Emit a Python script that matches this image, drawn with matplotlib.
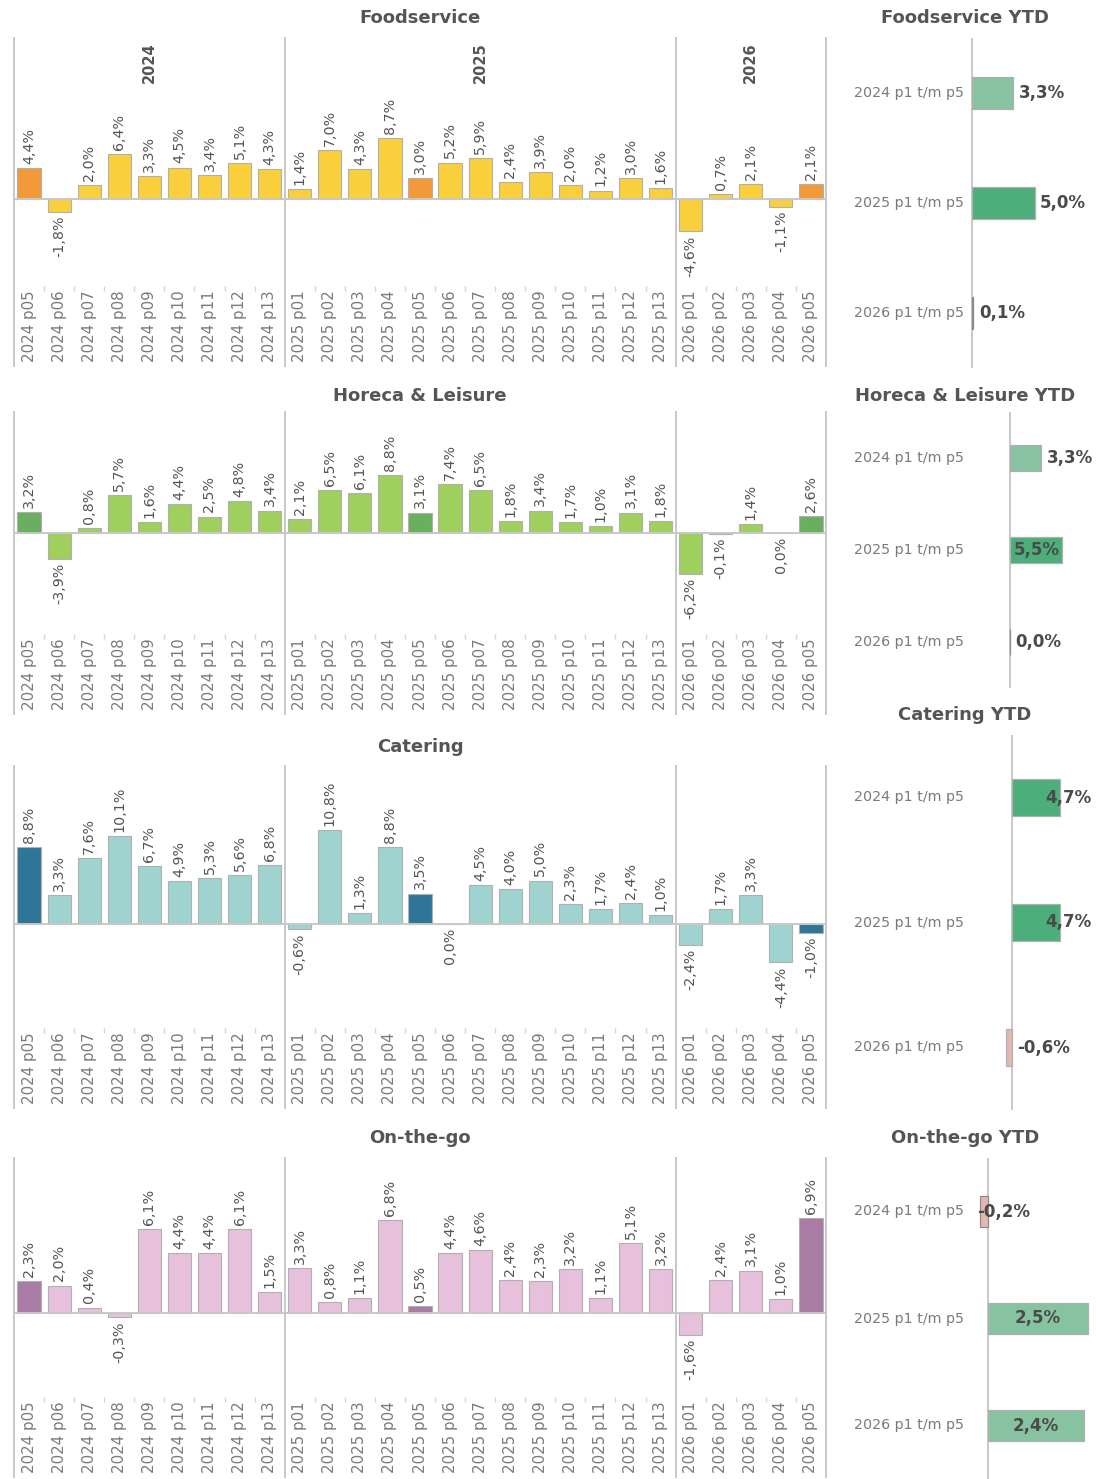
import numpy as np
import matplotlib
matplotlib.use("Agg")
import matplotlib.pyplot as plt

W, H = 1096, 1479

periods = ["2024 p05", "2024 p06", "2024 p07", "2024 p08", "2024 p09", "2024 p10",
           "2024 p11", "2024 p12", "2024 p13",
           "2025 p01", "2025 p02", "2025 p03", "2025 p04", "2025 p05", "2025 p06",
           "2025 p07", "2025 p08", "2025 p09", "2025 p10", "2025 p11", "2025 p12", "2025 p13",
           "2026 p01", "2026 p02", "2026 p03", "2026 p04", "2026 p05"]
years = ["2024", "2025", "2026"]
year_sizes = [9, 13, 5]

foodservice = [4.4, -1.8, 2.0, 6.4, 3.3, 4.5, 3.4, 5.1, 4.3,
               1.4, 7.0, 4.3, 8.7, 3.0, 5.2, 5.9, 2.4, 3.9, 2.0, 1.2, 3.0, 1.6,
               -4.6, 0.7, 2.1, -1.1, 2.1]
horeca = [3.2, -3.9, 0.8, 5.7, 1.6, 4.4, 2.5, 4.8, 3.4,
          2.1, 6.5, 6.1, 8.8, 3.1, 7.4, 6.5, 1.8, 3.4, 1.7, 1.0, 3.1, 1.8,
          -6.2, -0.1, 1.4, 0.0, 2.6]
catering = [8.8, 3.3, 7.6, 10.1, 6.7, 4.9, 5.3, 5.6, 6.8,
            -0.6, 10.8, 1.3, 8.8, 3.5, 0.0, 4.5, 4.0, 5.0, 2.3, 1.7, 2.4, 1.0,
            -2.4, 1.7, 3.3, -4.4, -1.0]
onthego = [2.3, 2.0, 0.4, -0.3, 6.1, 4.4, 4.4, 6.1, 1.5,
           3.3, 0.8, 1.1, 6.8, 0.5, 4.4, 4.6, 2.4, 2.3, 3.2, 1.1, 5.1, 3.2,
           -1.6, 2.4, 3.1, 1.0, 6.9]

ytd_labels = ["2024 p1 t/m p5", "2025 p1 t/m p5", "2026 p1 t/m p5"]
foodservice_ytd = [3.3, 5.0, 0.1]
horeca_ytd = [3.3, 5.5, 0.0]
catering_ytd = [4.7, 4.7, -0.6]
onthego_ytd = [-0.2, 2.5, 2.4]

TXT = "#555555"
GRID = "#c8c8c8"
EDGE = "#b0b0b0"


def px_rect(x0, y0, x1, y1):
    return [x0 / W, 1 - y1 / H, (x1 - x0) / W, (y1 - y0) / H]


def pct(v):
    return ("%.1f%%" % v).replace(".", ",")


fig = plt.figure(figsize=(W / 100, H / 100), dpi=100)


def draw_main(title, values, light, dark, top, bottom, zero, scale, title_y, show_years=False):
    ax = fig.add_axes(px_rect(14, top, 826, bottom))
    x = np.arange(len(periods))
    colors = [dark if p.endswith("p05") else light for p in periods]
    ax.bar(x, values, width=0.77, color=colors, edgecolor=EDGE, linewidth=0.8, zorder=2)
    ax.set_xlim(-0.5, len(periods) - 0.5)
    ax.set_ylim(-(bottom - zero) / scale, (zero - top) / scale)
    ax.axis("off")
    ax.axhline(0, color=GRID, lw=1.4, zorder=3)
    bounds = np.cumsum([0] + year_sizes) - 0.5
    for b in bounds:
        ax.axvline(b, color=GRID, lw=1.4, clip_on=False)

    for xi, v in zip(x, values):
        if v > 0:
            ax.annotate(pct(v), (xi, v), xytext=(0, 3), textcoords="offset points",
                        rotation=90, ha="center", va="bottom", fontsize=10.3, color=TXT)
        else:
            ax.annotate(pct(v), (xi, v), xytext=(0, -3), textcoords="offset points",
                        rotation=90, ha="center", va="top", fontsize=10.3, color=TXT)

    for xi, p in zip(x, periods):
        ax.annotate(p, (xi, 0), xycoords=("data", "axes fraction"), xytext=(0, 3),
                    textcoords="offset points", rotation=90, ha="center", va="bottom",
                    fontsize=10.8, color="#7a7a7a")

    # small separators above the period labels
    h = bottom - top
    inner = [i + 0.5 for i in range(len(periods) - 1) if (i + 0.5) not in bounds]
    ax.vlines(inner, 75 / h, 80 / h, transform=ax.get_xaxis_transform(),
              color="#d5d5d5", lw=1)

    if show_years:
        for k, yr in enumerate(years):
            c = (bounds[k] + bounds[k + 1]) / 2
            ax.annotate(yr, (c, 1), xycoords=("data", "axes fraction"), xytext=(0, -3),
                        textcoords="offset points", rotation=90, ha="center", va="top",
                        fontsize=10.5, fontweight="bold", color=TXT)

    fig.text(420 / W, 1 - title_y / H, title, ha="center", va="center",
             fontsize=13, fontweight="bold", color=TXT)


def ytd_color(v):
    if v < 0:
        return "#e3b8b2"
    if v >= 4:
        return "#4cae7b"
    return "#87c3a0"


def draw_ytd(title, values, top, bottom, zero, scale, title_y, modes):
    ax = fig.add_axes(px_rect(830, top, W, bottom))
    y = np.arange(len(values))
    edges = ["#8a8a8a" if abs(v) < 0.3 else EDGE for v in values]
    ax.barh(y, values, height=0.29, color=[ytd_color(v) for v in values],
            edgecolor=edges, linewidth=0.9, zorder=4)
    ax.set_xlim(-(zero - 830) / scale, (W - zero) / scale)
    ax.set_ylim(2.5, -0.5)
    ax.axis("off")
    ax.axvline(0, color=GRID, lw=1.4, zorder=3)

    for yi, lab in zip(y, ytd_labels):
        ax.annotate(lab, (0, yi), xytext=(-(zero - 964) * 0.72, 0), textcoords="offset points",
                    ha="right", va="center", fontsize=10.3, color="#7a7a7a")

    for yi, v, m in zip(y, values, modes):
        kw = dict(va="center", fontsize=12, fontweight="bold", color="#4a4a4a",
                  textcoords="offset points", zorder=5)
        if m == "out":
            ax.annotate(pct(v), (max(v, 0), yi), xytext=(4, 0), ha="left", **kw)
        elif m == "in":
            ax.annotate(pct(v), (v, yi), xytext=(-2, 0), ha="right", **kw)
        elif m == "edge":
            ax.annotate(pct(v), (1, yi), xycoords=("axes fraction", "data"),
                        xytext=(-3, 0), ha="right", **kw)
        elif m == "mid":
            ax.annotate(pct(v), (v / 2, yi), xytext=(0, 0), ha="center", **kw)
        else:
            ax.annotate(pct(v), (v, yi), xytext=(-2, 0), ha="left", **kw)

    fig.text(965 / W, 1 - title_y / H, title, ha="center", va="center",
             fontsize=13, fontweight="bold", color=TXT)


draw_main("Foodservice", foodservice, "#f9cf3c", "#f29a3a", 38, 366, 199, 7.0, 18, show_years=True)
draw_main("Horeca & Leisure", horeca, "#9fcf5c", "#6aae5f", 412, 714, 533, 6.6, 396)
draw_main("Catering", catering, "#9fd3d0", "#2e7598", 766, 1108, 924, 8.7, 747)
draw_main("On-the-go", onthego, "#e7c0dc", "#a97ca5", 1158, 1477, 1313, 13.7, 1138)

draw_ytd("Foodservice YTD", foodservice_ytd, 38, 368, 972, 12.5, 18, ["out", "out", "out"])
draw_ytd("Horeca & Leisure YTD", horeca_ytd, 412, 688, 1010, 9.5, 396, ["out", "in", "out"])
draw_ytd("Catering YTD", catering_ytd, 735, 1110, 1012, 10.2, 715, ["edge", "edge", "out"])
draw_ytd("On-the-go YTD", onthego_ytd, 1158, 1479, 988, 40.0, 1138, ["neg", "mid", "mid"])

fig.savefig("out.png", dpi=100, facecolor="white")
